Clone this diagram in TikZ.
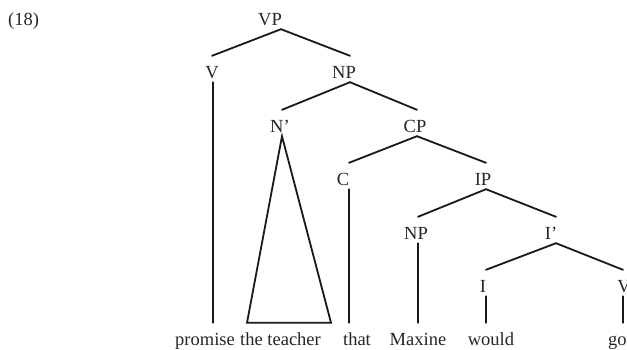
\documentclass[tikz,border=0pt]{standalone}
\usepackage{fontspec}
\setmainfont{Liberation Serif}
\begin{document}
\begin{tikzpicture}[x=1pt,y=-1pt,
  lab/.style={inner sep=0pt, text height=22pt, text depth=4pt, anchor=base, font=\fontsize{18.5}{22}\selectfont, text=black!85},
  branch/.style={line width=1.8pt, draw=black!90, line cap=round}]
\useasboundingbox (0,0) rectangle (627,349);
\clip (0,0) rectangle (627,349);
% labels
\node[lab, anchor=base west] (ex) at (8,25) {(18)};
\node[lab] (VP) at (270,25) {VP};
\node[lab] (V) at (212,78) {V};
\node[lab] (NP) at (344,78) {NP};
\node[lab] (Nbar) at (280,132) {N’};
\node[lab] (CP) at (415,132) {CP};
\node[lab] (C) at (343,185) {C};
\node[lab] (IP) at (483,185) {IP};
\node[lab] (NPb) at (416,239) {NP};
\node[lab] (Ibar) at (551,239) {I’};
\node[lab] (I) at (483,292) {I};
\node[lab] (Vb) at (624,292) {V};
% words
\node[lab, anchor=base west] (promise) at (175,345) {promise};
\node[lab, anchor=base west] (teacher) at (240,345) {the teacher};
\node[lab] (that) at (357,345) {that};
\node[lab] (Maxine) at (418,345) {Maxine};
\node[lab] (would) at (491,345) {would};
\node[lab, anchor=base west] (go) at (608,345) {go};
% branches
\draw[branch] ([xshift=11pt]VP.south) -- (V.north);
\draw[branch] ([xshift=11pt]VP.south) -- ([xshift=6pt]NP.north);
\draw[branch] ([xshift=6pt]NP.south) -- ([xshift=2pt]Nbar.north);
\draw[branch] ([xshift=6pt]NP.south) -- ([xshift=2pt]CP.north);
\draw[branch] ([xshift=2pt]CP.south) -- ([xshift=6pt]C.north);
\draw[branch] ([xshift=2pt]CP.south) -- ([xshift=3pt]IP.north);
\draw[branch] ([xshift=3pt]IP.south) -- ([xshift=2pt]NPb.north);
\draw[branch] ([xshift=3pt]IP.south) -- ([xshift=5pt]Ibar.north);
\draw[branch] ([xshift=5pt]Ibar.south) -- ([xshift=3pt]I.north);
\draw[branch] ([xshift=5pt]Ibar.south) -- ([xshift=-1pt]Vb.north);
% vertical lines to words
\draw[branch] ([xshift=1pt]V.south) -- ([xshift=1pt]V.south |- promise.north);
\draw[branch] ([xshift=6pt]C.south) -- ([xshift=6pt]C.south |- that.north);
\draw[branch] ([xshift=2pt]NPb.south) -- ([xshift=2pt]NPb.south |- Maxine.north);
\draw[branch] ([xshift=3pt]I.south) -- ([xshift=3pt]I.south |- would.north);
\draw[branch] ([xshift=-1pt]Vb.south) -- ([xshift=-1pt]Vb.south |- go.north);
% triangle
\draw[branch, line join=miter] ([xshift=2pt]Nbar.south) -- ([xshift=7pt]teacher.north west) -- ([xshift=10pt]teacher.north east) -- cycle;
\end{tikzpicture}
\end{document}
